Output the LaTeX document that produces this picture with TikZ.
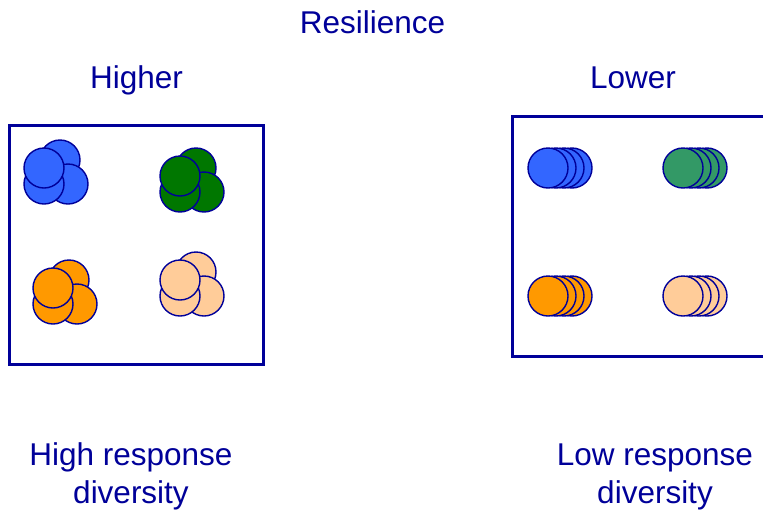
\documentclass[tikz,border=0pt]{standalone}
\usepackage{fontspec}
\setmainfont{Liberation Sans}
\definecolor{navy}{HTML}{000099}
\definecolor{cblue}{HTML}{3366FF}
\definecolor{cgreen}{HTML}{007700}
\definecolor{cseagreen}{HTML}{339966}
\definecolor{corange}{HTML}{FF9900}
\definecolor{cpeach}{HTML}{FFCC99}
\tikzset{
  label text/.style={text=navy, font=\fontsize{31.5}{38}\selectfont, anchor=base, inner sep=0pt},
  panel/.style={draw=navy, line width=3pt},
  dot/.style={circle, draw=navy, line width=1.4pt, minimum size=40pt, inner sep=0pt},
}
% four overlapping cells in a loose clump
\newcommand{\clump}[4]{%
  \node[dot, fill=#3] (#4tr) at (#1+16,#2-8) {};
  \node[dot, fill=#3] (#4br) at (#1+24,#2+16) {};
  \node[dot, fill=#3] (#4bl) at (#1,#2+16) {};
  \node[dot, fill=#3] (#4fr) at (#1,#2) {};
}
% four cells stacked almost on top of each other
\newcommand{\stack}[4]{%
  \node[dot, fill=#3] (#4d) at (#1+24,#2) {};
  \node[dot, fill=#3] (#4c) at (#1+16,#2) {};
  \node[dot, fill=#3] (#4b) at (#1+8,#2) {};
  \node[dot, fill=#3] (#4a) at (#1,#2) {};
}
\begin{document}
\begin{tikzpicture}[x=1pt,y=-1pt]
\useasboundingbox (0,0) rectangle (763,509);

% titles
\node[label text] (title) at (372.5,33) {Resilience};
\node[label text] (hi) at (136.5,88) {Higher};
\node[label text] (lo) at (633,88) {Lower};

% panels
\draw[panel] (9,125.5) rectangle (263.5,364.5);
\begin{scope}
\clip (0,0) rectangle (763,509);
\draw[panel] (512.5,116) rectangle (790,356.5);
\end{scope}

% high response diversity
\clump{44}{168}{cblue}{hb}
\clump{180}{176}{cgreen}{hg}
\clump{53}{288}{corange}{ho}
\clump{180}{280}{cpeach}{hp}

% low response diversity
\stack{548}{168}{cblue}{lb}
\stack{683}{168}{cseagreen}{lg}
\stack{548}{296}{corange}{lo}
\stack{683}{296}{cpeach}{lp}

% captions
\node[label text] (hcap1) at (131,465) {High response};
\node[label text] (hcap2) at (131,503) {diversity};
\node[label text] (lcap1) at (655,465) {Low response};
\node[label text] (lcap2) at (655,503) {diversity};
\end{tikzpicture}
\end{document}
